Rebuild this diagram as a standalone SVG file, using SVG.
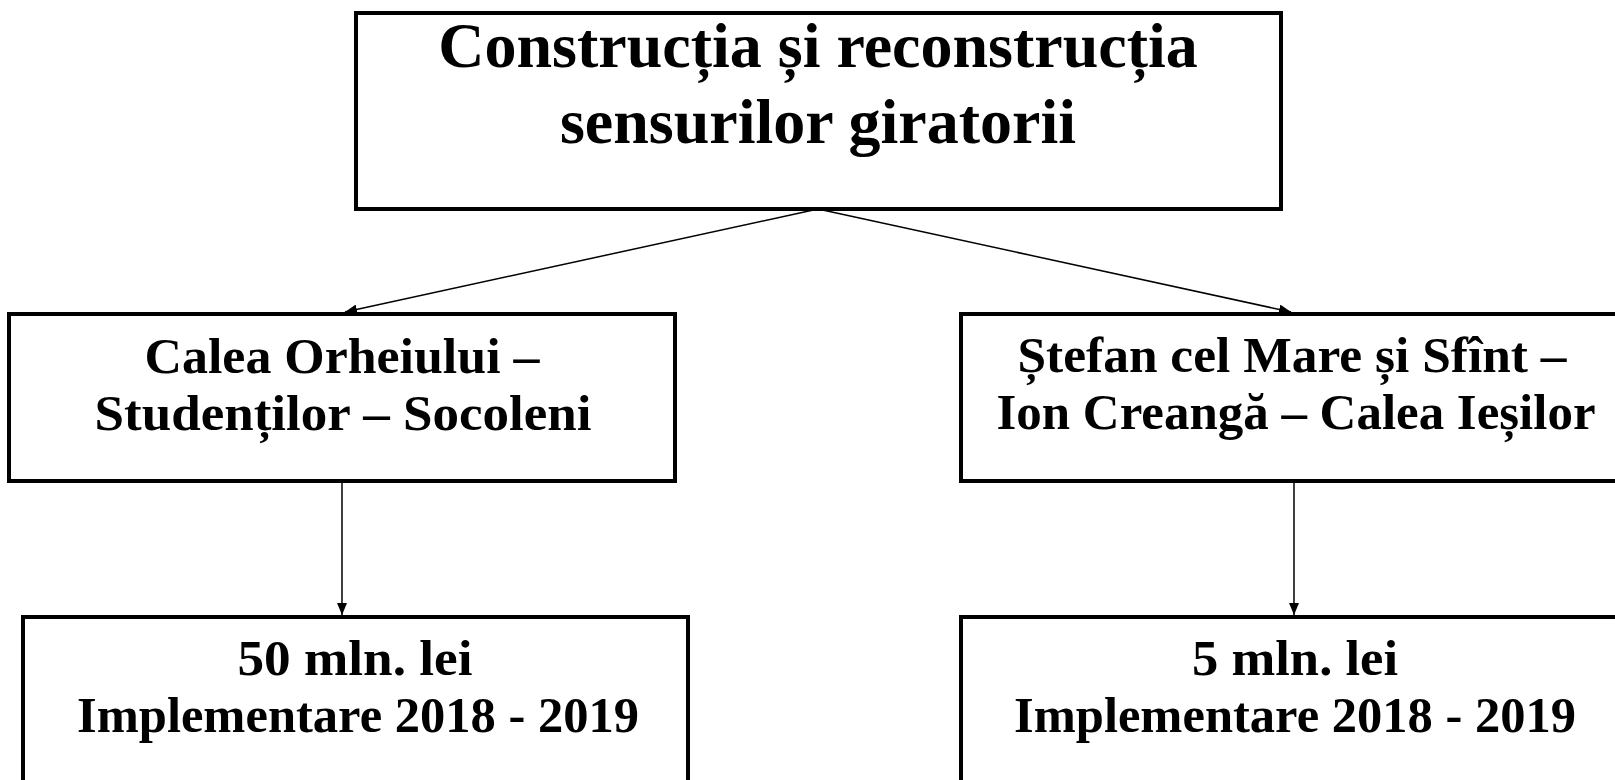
<svg xmlns="http://www.w3.org/2000/svg" width="1615" height="780" viewBox="0 0 1615 780">
<style>
.box{fill:#fff;stroke:#000;stroke-width:4}
.t1{font-family:"Liberation Serif","Times New Roman",serif;font-weight:bold;font-size:64px;fill:#000;text-anchor:middle}
.t2{font-family:"Liberation Serif","Times New Roman",serif;font-weight:bold;font-size:50px;fill:#000;text-anchor:middle}
.conn{stroke:#000;stroke-width:1.5;fill:none}
</style>
<defs>
<marker id="arr" viewBox="0 0 12 10" refX="12" refY="5" markerWidth="12" markerHeight="10" markerUnits="userSpaceOnUse" orient="auto">
<path d="M0,0 L12,5 L0,10 Z" fill="#000"/>
</marker>
</defs>
<rect width="1615" height="780" fill="#fff"/>
<g id="connectors">
<line class="conn" x1="818" y1="209" x2="345" y2="312" marker-end="url(#arr)"/>
<line class="conn" x1="818" y1="209" x2="1291" y2="312" marker-end="url(#arr)"/>
<line class="conn" x1="342" y1="481" x2="342" y2="615" marker-end="url(#arr)"/>
<line class="conn" x1="1294" y1="481" x2="1294" y2="615" marker-end="url(#arr)"/>
</g>
<g id="title">
<rect class="box" x="356" y="13" width="925" height="196"/>
<text class="t1" x="818" y="67">Construcția și reconstrucția</text>
<text class="t1" x="818" y="143">sensurilor giratorii</text>
</g>
<g id="left-route">
<rect class="box" x="9" y="314" width="666" height="167"/>
<text class="t2" x="342" y="373" textLength="395" lengthAdjust="spacingAndGlyphs">Calea Orheiului –</text>
<text class="t2" x="343" y="430" textLength="497" lengthAdjust="spacingAndGlyphs">Studenților – Socoleni</text>
</g>
<g id="right-route">
<rect class="box" x="961" y="314" width="666" height="167"/>
<text class="t2" x="1292" y="372" textLength="549" lengthAdjust="spacingAndGlyphs">Ștefan cel Mare și Sfînt –</text>
<text class="t2" x="1296" y="429" textLength="599" lengthAdjust="spacingAndGlyphs">Ion Creangă – Calea Ieșilor</text>
</g>
<g id="left-cost">
<rect class="box" x="23" y="617" width="665" height="200"/>
<text class="t2" x="355" y="675" textLength="235" lengthAdjust="spacingAndGlyphs">50 mln. lei</text>
<text class="t2" x="358" y="732" textLength="562" lengthAdjust="spacingAndGlyphs">Implementare 2018 - 2019</text>
</g>
<g id="right-cost">
<rect class="box" x="961" y="617" width="680" height="200"/>
<text class="t2" x="1295" y="675" textLength="206" lengthAdjust="spacingAndGlyphs">5 mln. lei</text>
<text class="t2" x="1295" y="732" textLength="562" lengthAdjust="spacingAndGlyphs">Implementare 2018 - 2019</text>
</g>
</svg>
